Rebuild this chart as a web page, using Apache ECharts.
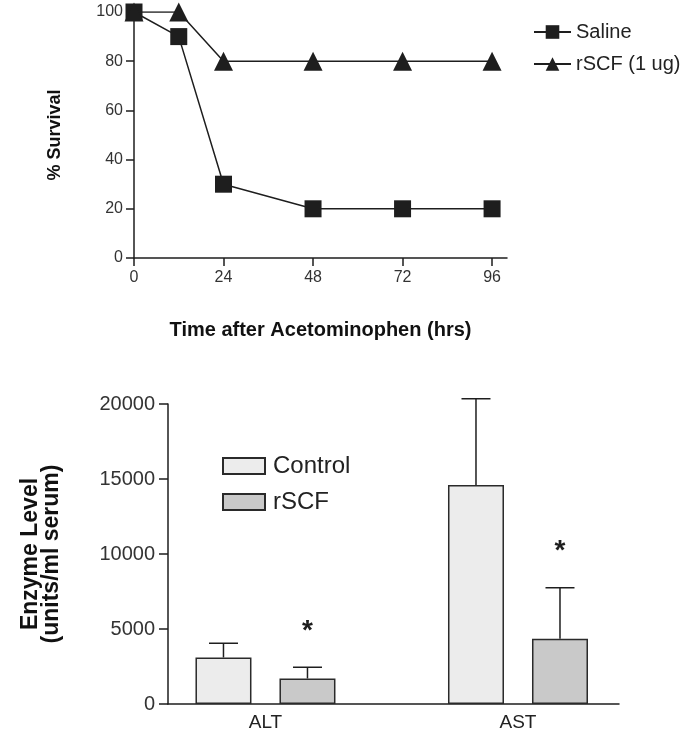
<!DOCTYPE html>
<html>
<head>
<meta charset="utf-8">
<script src="https://cdn.jsdelivr.net/npm/echarts@6/dist/echarts.min.js"></script>
<style>
html,body{margin:0;padding:0;background:#fff;}
#c{width:685px;height:734px;}
</style>
</head>
<body>
<div id="c"></div>
<script>
// ---- Top chart data: % survival ----
var hours = [0, 12, 24, 48, 72, 96];
var saline = [100, 90, 30, 20, 20, 20];
var rscf1ug = [100, 100, 80, 80, 80, 80];
var hourTicks = [0, 24, 48, 72, 96];

// ---- Bottom chart data: enzyme levels ----
var enzymes = ['ALT', 'AST'];
var enzymePos = [1, 2];
var controlMean = [3100, 14600];
var controlUpper = [4050, 20350];
var rscfMean = [1700, 4350];
var rscfUpper = [2450, 7750];
var rscfSig = ['*', '*'];

var FONT = 'Liberation Sans, Arial, Helvetica, sans-serif';
var INK = '#1e1e1e';

function pairs(xs, ys) { return xs.map(function (x, i) { return [x, ys[i]]; }); }

function errData(means, uppers, sig) {
  return enzymePos.map(function (x, i) { return [x, means[i], uppers[i], sig ? sig[i] : '']; });
}

function errRenderer(offset) {
  return function (params, api) {
    var x = api.value(0);
    var base = api.coord([x, api.value(1)]);
    var top = api.coord([x, api.value(2)]);
    var cx = base[0] + offset;
    var children = [
      { type: 'line', shape: { x1: cx, y1: base[1], x2: cx, y2: top[1] },
        style: { stroke: INK, lineWidth: 1.5 } },
      { type: 'line', shape: { x1: cx - 14.5, y1: top[1], x2: cx + 14.5, y2: top[1] },
        style: { stroke: INK, lineWidth: 1.5 } }
    ];
    var s = api.value(3);
    if (s) {
      children.push({ type: 'text', x: cx, y: top[1] - 36,
        style: { text: s, font: 'bold 28px ' + FONT, fill: INK, align: 'center', verticalAlign: 'middle' } });
    }
    return { type: 'group', children: children };
  };
}

var chart = echarts.init(document.getElementById('c'));
chart.setOption({
  backgroundColor: '#fff',
  animation: false,
  textStyle: { fontFamily: FONT },
  grid: [
    { left: 134, top: 12, width: 373, height: 246 },
    { left: 168, top: 404, width: 451, height: 300 }
  ],
  legend: [
    { data: ['Saline', 'rSCF (1 ug)'], orient: 'vertical', left: 528, top: 17,
      itemWidth: 37, itemHeight: 17, itemGap: 12,
      textStyle: { fontFamily: FONT, fontSize: 20, color: '#222' } },
    { data: ['Control', 'rSCF'], orient: 'vertical', left: 217, top: 449, icon: 'rect',
      itemWidth: 42, itemHeight: 16, itemGap: 12,
      textStyle: { fontFamily: FONT, fontSize: 24, color: '#222', padding: [0, 0, 0, 3] } }
  ],
  xAxis: [
    { gridIndex: 0, type: 'value', min: 0, max: 100,
      name: 'Time after Acetominophen (hrs)', nameLocation: 'middle', nameGap: 62,
      nameTextStyle: { fontFamily: FONT, fontSize: 20, fontWeight: 'bold', color: '#111' },
      axisLine: { lineStyle: { color: INK, width: 1.5 } },
      axisTick: { customValues: hourTicks, length: 8, lineStyle: { color: INK, width: 1.5 } },
      axisLabel: { customValues: hourTicks, margin: 12, fontSize: 16, color: '#333', fontFamily: FONT },
      splitLine: { show: false } },
    { gridIndex: 1, type: 'value', min: 0.614, max: 2.4,
      axisLine: { lineStyle: { color: INK, width: 1.5 } },
      axisTick: { show: false },
      axisLabel: { customValues: enzymePos, margin: 9, fontSize: 19, color: '#222', fontFamily: FONT,
        formatter: function (v) { var i = enzymePos.indexOf(Math.round(v)); return i >= 0 ? enzymes[i] : ''; } },
      splitLine: { show: false } }
  ],
  yAxis: [
    { gridIndex: 0, type: 'value', min: 0, max: 100, interval: 20,
      name: '% Survival', nameLocation: 'middle', nameGap: 70, nameRotate: 90,
      nameTextStyle: { fontFamily: FONT, fontSize: 18, fontWeight: 'bold', color: '#111' },
      axisLine: { show: true, lineStyle: { color: INK, width: 1.5 } },
      axisTick: { show: true, length: 8, lineStyle: { color: INK, width: 1.5 } },
      axisLabel: { margin: 11, fontSize: 16, color: '#333', fontFamily: FONT },
      splitLine: { show: false } },
    { gridIndex: 1, type: 'value', min: 0, max: 20000, interval: 5000,
      name: 'Enzyme Level\n(units/ml serum)', nameLocation: 'middle', nameGap: 106, nameRotate: 90,
      nameTextStyle: { fontFamily: FONT, fontSize: 23, fontWeight: 'bold', color: '#111', lineHeight: 21 },
      axisLine: { show: true, lineStyle: { color: INK, width: 1.5 } },
      axisTick: { show: true, length: 9, lineStyle: { color: INK, width: 1.5 } },
      axisLabel: { margin: 13, fontSize: 20, color: '#333', fontFamily: FONT,
        formatter: function (v) { return String(v); } },
      splitLine: { show: false } }
  ],
  series: [
    { name: 'Saline', type: 'line', xAxisIndex: 0, yAxisIndex: 0,
      data: pairs(hours, saline), symbol: 'rect', symbolSize: 17,
      lineStyle: { color: INK, width: 1.5 }, itemStyle: { color: INK } },
    { name: 'rSCF (1 ug)', type: 'line', xAxisIndex: 0, yAxisIndex: 0,
      data: pairs(hours, rscf1ug), symbol: 'triangle', symbolSize: 19,
      lineStyle: { color: INK, width: 1.5 }, itemStyle: { color: INK } },
    { name: 'Control', type: 'bar', xAxisIndex: 1, yAxisIndex: 1,
      data: pairs(enzymePos, controlMean), barWidth: 56, barGap: '50%',
      itemStyle: { color: '#ececec', borderColor: '#2a2a2a', borderWidth: 1.5 } },
    { name: 'rSCF', type: 'bar', xAxisIndex: 1, yAxisIndex: 1,
      data: pairs(enzymePos, rscfMean), barWidth: 56, barGap: '50%',
      itemStyle: { color: '#c9c9c9', borderColor: '#2a2a2a', borderWidth: 1.5 } },
    { type: 'custom', xAxisIndex: 1, yAxisIndex: 1, z: 1,
      data: errData(controlMean, controlUpper, null), renderItem: errRenderer(-42),
      encode: { x: 0, y: [1, 2] } },
    { type: 'custom', xAxisIndex: 1, yAxisIndex: 1, z: 1,
      data: errData(rscfMean, rscfUpper, rscfSig), renderItem: errRenderer(42),
      encode: { x: 0, y: [1, 2] } }
  ]
});
</script>
</body>
</html>
